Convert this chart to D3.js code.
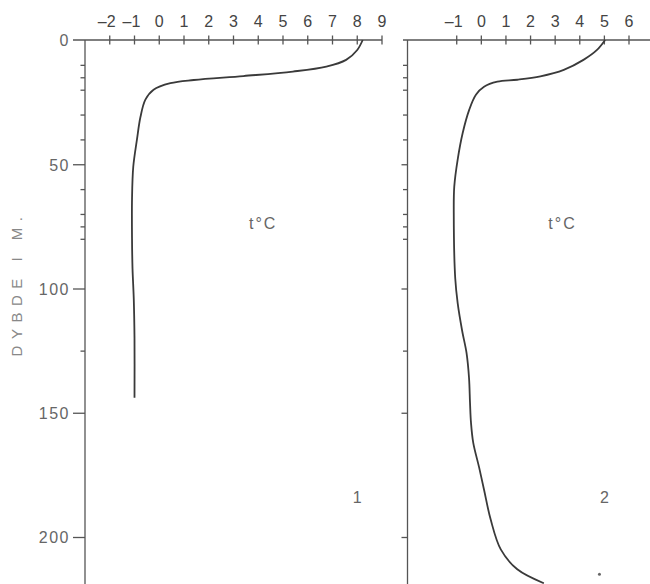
<!DOCTYPE html>
<html>
<head>
<meta charset="utf-8">
<script src="https://d3js.org/d3.v7.min.js"></script>
<style>
  body { margin: 0; background: #fff; }
  svg { display: block; }
  .axis path, .axis line { stroke: #555; stroke-width: 1.3; }
  .axis text { font-family: "Liberation Sans", Arial, sans-serif; fill: #444; }
  .curve { fill: none; stroke: #3a3a3a; stroke-width: 1.8; }
  .lbl { font-family: "Liberation Sans", Arial, sans-serif; fill: #666; }
</style>
</head>
<body>
<svg id="chart" width="650" height="584"></svg>
<script>
// station 1
const depth1 = [0, 4, 8, 10.7, 12.7, 14.5, 16.1, 17.4, 20, 24, 31, 40, 51, 64, 80, 92, 104, 120, 144];
const temp1 = [8.22, 8.0, 7.55, 6.75, 5.4, 3.4, 1.4, 0.45, -0.23, -0.56, -0.76, -0.9, -1.05, -1.1, -1.1, -1.08, -1.03, -1.0, -1.0];

// station 2
const depth2 = [0, 4, 8, 12, 14.6, 16, 16.8, 18.8, 22, 28, 37.5, 48, 59, 70, 96, 106, 117, 126, 136, 146, 154, 162, 172, 181, 193, 205, 213, 218.6];
const temp2 = [5.03, 4.7, 4.15, 3.35, 2.4, 1.46, 0.65, 0.11, -0.22, -0.49, -0.76, -0.96, -1.1, -1.12, -1.06, -0.96, -0.78, -0.6, -0.5, -0.46, -0.42, -0.33, -0.09, 0.11, 0.38, 0.79, 1.46, 2.54];

const tempTicks1 = [-2, -1, 0, 1, 2, 3, 4, 5, 6, 7, 8, 9];
const tempTicks2 = [-1, 0, 1, 2, 3, 4, 5, 6];
const depthTicks = [0, 10, 15, 20, 30, 40, 50, 60, 70, 75, 80, 100, 125, 150, 200];
const depthLabels = [0, 50, 100, 150, 200];

const svg = d3.select('#chart');
const H = 584;

const y = d3.scaleLinear().domain([0, 200]).range([40, 537]);

const panels = [
    { x: d3.scaleLinear().domain([-3, 9]).range([85, 382]), depth: depth1, temp: temp1, ticks: tempTicks1, lineFrom: 73, lineTo: 382, labelled: true, no: '1' },
    { x: d3.scaleLinear().domain([-3, 6]).range([407.5, 629]), depth: depth2, temp: temp2, ticks: tempTicks2, lineFrom: 403, lineTo: 650, labelled: false, no: '2' },
];

panels.forEach(function(p) {
    const x0 = p.x.range()[0];

    // top temperature axis
    const top = svg.append('g').classed('axis', true).attr('transform', 'translate(0,' + y(0) + ')');
    top.append('line').attr('x1', p.lineFrom).attr('x2', p.lineTo).attr('y1', 0).attr('y2', 0);
    top.selectAll('line.tk').data(p.ticks).enter().append('line').classed('tk', true)
        .attr('x1', d => p.x(d)).attr('x2', d => p.x(d)).attr('y1', -4.5).attr('y2', 4.5);
    top.selectAll('text').data(p.ticks).enter().append('text')
        .attr('x', d => p.x(d) - (d < 0 ? 3 : 0)).attr('y', -13)
        .attr('text-anchor', 'middle').style('font-size', '16px')
        .text(d => d < 0 ? '\u2013' + Math.abs(d) : d);

    // depth axis
    const ax = d3.axisLeft(y).tickValues(depthTicks)
        .tickFormat(d => (p.labelled && depthLabels.includes(d)) ? d : '')
        .tickSizeOuter(0);
    const g = svg.append('g').classed('axis', true).attr('transform', 'translate(' + x0 + ',0)').call(ax);
    g.select('path.domain').remove();
    g.append('line').attr('x1', 0).attr('x2', 0).attr('y1', y(0)).attr('y2', H);
    g.selectAll('.tick line').attr('x2', function(d) {
        if (d === 0) return 0;
        if (p.labelled) return depthLabels.includes(d) ? -12 : -4.5;
        return depthLabels.includes(d) ? -6 : -4.5;
    });
    g.selectAll('.tick text').attr('x', -15).attr('dy', '0.36em')
        .style('font-size', '16px').style('letter-spacing', '1.5px').style('fill', '#666');

    // curve
    const pts = p.depth.map((d, i) => [p.temp[i], d]);
    svg.append('path').classed('curve', true).datum(pts)
        .attr('d', d3.line().x(d => p.x(d[0])).y(d => y(d[1])).curve(d3.curveCatmullRom.alpha(0.5)));

    // labels
    svg.append('text').classed('lbl', true)
        .attr('x', p.x(p.labelled ? 4.2 : 3.3)).attr('y', y(76))
        .style('font-size', '16px').style('letter-spacing', '2px').attr('text-anchor', 'middle')
        .text('t\u00b0C');
    svg.append('text').classed('lbl', true)
        .attr('x', p.x(p.labelled ? 8 : 5)).attr('y', y(186.5))
        .style('font-size', '16px').attr('text-anchor', 'middle')
        .text(p.no);
});

// stray dot in panel 2
svg.append('circle').attr('cx', panels[1].x(4.8)).attr('cy', y(215)).attr('r', 1.5).attr('fill', '#666');

// y axis title
svg.append('text').classed('lbl', true)
    .attr('transform', 'translate(22,' + y(98) + ') rotate(-90)')
    .attr('text-anchor', 'middle')
    .style('font-size', '15px').style('letter-spacing', '6.5px').style('fill', '#888')
    .text('DYBDE I M.');
</script>
</body>
</html>
